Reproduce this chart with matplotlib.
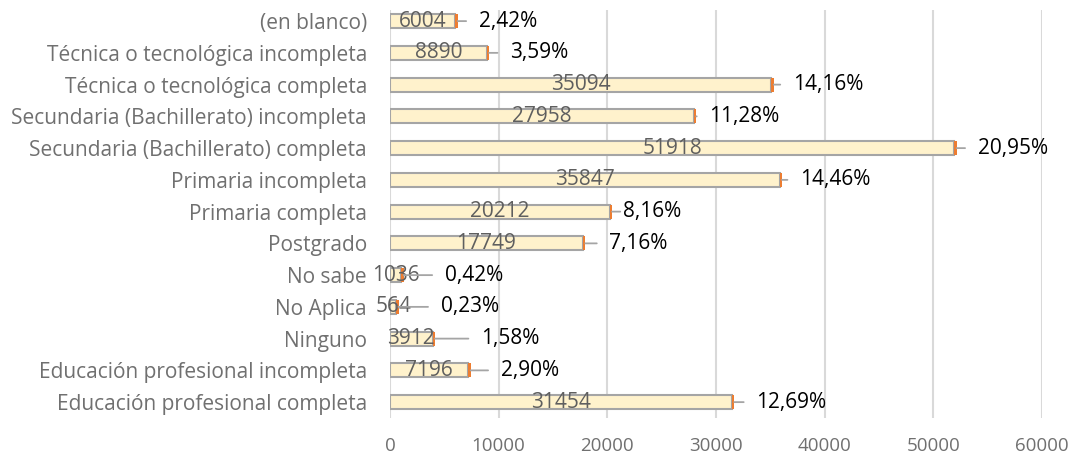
import numpy as np
import matplotlib
matplotlib.use("Agg")
import matplotlib.pyplot as plt

plt.rcParams['font.family'] = ['Open Sans', 'DejaVu Sans']

# data, bottom to top
categorias = ['Educación profesional completa', 'Educación profesional incompleta', 'Ninguno',
              'No Aplica', 'No sabe', 'Postgrado', 'Primaria completa', 'Primaria incompleta',
              'Secundaria (Bachillerato) completa', 'Secundaria (Bachillerato) incompleta',
              'Técnica o tecnológica completa', 'Técnica o tecnológica incompleta', '(en blanco)']
conteo = [31454, 7196, 3912, 564, 1036, 17749, 20212, 35847, 51918, 27958, 35094, 8890, 6004]
porcentaje = ['12,69%', '2,90%', '1,58%', '0,23%', '0,42%', '7,16%', '8,16%', '14,46%',
              '20,95%', '11,28%', '14,16%', '3,59%', '2,42%']
# offset (pixels) of each percentage label from the end of its bar
gap_px = [22, 30, 46, 42, 41, 24, 11, 18, 21, 13, 19, 21, 21]

gris = '#707070'
fig = plt.figure(figsize=(10.73, 4.58), dpi=100)
ax = fig.add_axes([390/1073, 1 - 418/458, (1042-390)/1073, (418-10)/458])

y = np.arange(len(categorias))
ax.barh(y, conteo, height=0.44, color='#FFF2CC', edgecolor='#A5A5A5', linewidth=1.5, zorder=3)
ax.barh(y, [220]*len(conteo), left=conteo, height=0.44, color='#ED7D31', linewidth=0, zorder=4)

for i in range(len(conteo)):
    ax.text(conteo[i]/2, y[i], str(conteo[i]), ha='center', va='center', color='#5f5f5f',
            fontsize=15, zorder=5)
    ax.annotate(porcentaje[i], xy=(conteo[i] + 220, y[i]), xytext=(gap_px[i], 0),
                textcoords='offset pixels', ha='left', va='center', fontsize=15, color='black',
                arrowprops=dict(arrowstyle='-', color='#A5A5A5', lw=1.3, shrinkA=7, shrinkB=0),
                zorder=5)

ax.set_xlim(0, 60000)
ax.set_ylim(-0.5, 12.35)
ax.set_xticks(np.arange(0, 60001, 10000))
ax.set_yticks(y)
ax.set_yticklabels(categorias, fontsize=15, color=gris)
ax.tick_params(axis='x', colors=gris, labelsize=13.5, length=0, pad=14)
ax.tick_params(axis='y', length=0, pad=16.5)
ax.grid(axis='x', color='#D9D9D9', linewidth=1.5, zorder=0)
for s in ax.spines.values():
    s.set_visible(False)

fig.savefig('out.png', dpi=100)
